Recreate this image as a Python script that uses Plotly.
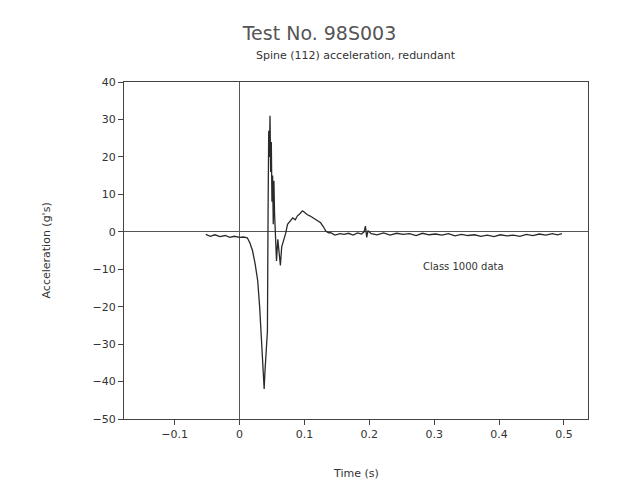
import plotly.graph_objects as go

# time (s) and acceleration (g's)
time = [-0.052, -0.045, -0.038, -0.030, -0.022, -0.015, -0.008, 0.000, 0.006, 0.012,
        0.016, 0.020, 0.024, 0.028, 0.031, 0.033, 0.035, 0.037, 0.038, 0.039, 0.040,
        0.041, 0.043, 0.044, 0.045, 0.046, 0.047, 0.048, 0.049, 0.050, 0.051, 0.052,
        0.053, 0.054, 0.056, 0.057, 0.059, 0.060, 0.062, 0.063, 0.065, 0.068, 0.071,
        0.074, 0.078, 0.082, 0.086, 0.089, 0.093, 0.097, 0.100, 0.104, 0.109, 0.114,
        0.119, 0.125, 0.129, 0.133, 0.137, 0.140, 0.147, 0.155, 0.161, 0.168, 0.175,
        0.182, 0.188, 0.192, 0.194, 0.196, 0.198, 0.203, 0.212, 0.222, 0.232, 0.242,
        0.252, 0.262, 0.272, 0.282, 0.292, 0.302, 0.312, 0.322, 0.332, 0.342, 0.352,
        0.362, 0.372, 0.382, 0.392, 0.402, 0.412, 0.422, 0.432, 0.442, 0.452, 0.462,
        0.472, 0.482, 0.490, 0.497]
accel = [-0.7, -1.2, -0.8, -1.3, -1.0, -1.5, -1.2, -1.5, -1.4, -1.6,
         -3.0, -5.0, -8.5, -13.0, -20.0, -26.5, -33.0, -40.0, -42.0, -38.0, -34.0,
         -30.0, -26.5, 5.0, 27.0, 20.0, 31.0, 16.0, 24.0, 8.0, 15.0, 2.0,
         13.6, 5.0, -5.0, -7.8, -2.0, -3.5, -7.0, -9.0, -4.0, -2.5, -0.5,
         2.0, 3.0, 3.7, 3.2, 4.2, 4.8, 5.6, 5.2, 4.6, 4.2, 3.6,
         3.0, 2.4, 1.4, 0.2, -0.3, -0.2, -0.9, -0.5, -0.7, -0.4, -0.9,
         -0.3, -0.6, 0.0, 1.5, -1.5, 0.3, -0.5, -0.8, -0.3, -0.9, -0.4,
         -0.7, -0.5, -1.0, -0.4, -0.8, -0.6, -0.9, -0.5, -1.1, -0.7, -1.0,
         -0.8, -1.2, -0.9, -1.3, -0.8, -1.1, -0.9, -1.2, -0.7, -1.0, -0.6,
         -0.9, -0.5, -0.8, -0.5]

txt = "#333333"
fig = go.Figure()
fig.add_trace(go.Scatter(x=time, y=accel, mode="lines",
                         line=dict(color="#2a2a2a", width=1.3), showlegend=False))

axis = dict(showgrid=False, zeroline=True, zerolinecolor="#555555", zerolinewidth=1,
            showline=True, linecolor="#444444", linewidth=1, mirror=True,
            ticks="outside", ticklen=5, tickcolor="#444444", automargin=False,
            tickfont=dict(size=11, color=txt))
fig.update_xaxes(range=[-0.178, 0.537], tickvals=[-0.1, 0, 0.1, 0.2, 0.3, 0.4, 0.5], **axis)
fig.update_yaxes(range=[-50, 40], dtick=10, **axis)

fig.add_annotation(x=0.28, y=-9.3, text="Class 1000 data", showarrow=False,
                   xanchor="left", font=dict(size=10, color=txt))
fig.add_annotation(x=0.5, y=1, xref="paper", yref="paper", yshift=27, yanchor="middle",
                   text="Spine (112) acceleration, redundant", showarrow=False,
                   font=dict(size=11, color=txt))
fig.add_annotation(x=0.5, y=0, xref="paper", yref="paper", yshift=-54, yanchor="middle",
                   text="Time (s)", showarrow=False, font=dict(size=11, color=txt))
fig.add_annotation(x=0, y=0.5, xref="paper", yref="paper", xshift=-78, xanchor="center",
                   text="Acceleration (g's)", textangle=-90, showarrow=False,
                   font=dict(size=11, color=txt))

fig.update_layout(
    width=623, height=484,
    margin=dict(l=116, r=43, t=74, b=73),
    paper_bgcolor="white", plot_bgcolor="white",
    font=dict(family="DejaVu Sans"),
    title=dict(text="Test No. 98S003", x=0.5, xanchor="center", y=0.948, yanchor="middle",
               font=dict(size=19, color="#555555")),
)
fig.write_html("out.html")
